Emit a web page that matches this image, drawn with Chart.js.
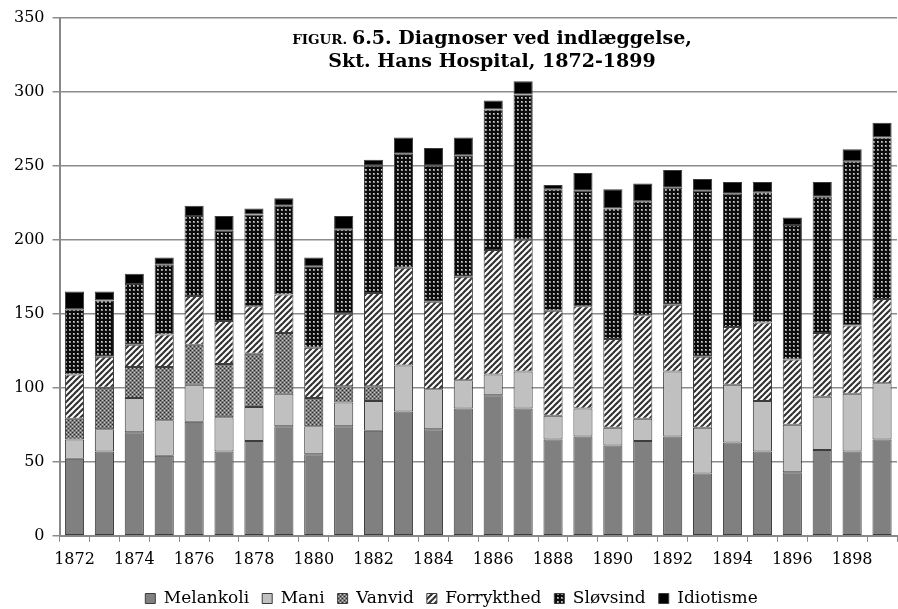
<!DOCTYPE html>
<html>
<head>
<meta charset="utf-8">
<script src="https://cdn.jsdelivr.net/npm/chart.js@4.4.0/dist/chart.umd.min.js"></script>
<style>
  html, body { margin: 0; padding: 0; background: #fff; }
  #wrap { width: 898px; height: 609px; }
</style>
</head>
<body>
<div id="wrap"><canvas id="chart"></canvas></div>
<script>
const years = [
  1872, 1873, 1874, 1875, 1876, 1877, 1878, 1879, 1880, 1881, 1882, 1883, 1884, 1885,
  1886, 1887, 1888, 1889, 1890, 1891, 1892, 1893, 1894, 1895, 1896, 1897, 1898, 1899,
];
const melankoli = [52, 57, 70, 54, 77, 57, 64, 74, 55, 74, 71, 84, 72, 86, 95, 86, 65, 67, 61, 64, 67, 42, 63, 57, 43, 58, 57, 65];
const mani = [13, 15, 23, 24, 25, 23, 23, 22, 19, 16, 20, 31, 27, 19, 14, 25, 16, 19, 12, 15, 44, 31, 39, 34, 32, 36, 39, 38];
const vanvid = [14, 28, 21, 36, 27, 36, 36, 41, 19, 11, 10, 0, 0, 0, 0, 0, 0, 0, 0, 0, 0, 0, 0, 0, 0, 0, 0, 0];
const forrykthed = [30, 21, 15, 22, 33, 29, 32, 26, 34, 49, 63, 66, 59, 70, 84, 89, 71, 69, 60, 70, 45, 48, 39, 53, 44, 43, 46, 57];
const sloevsind = [44, 38, 41, 47, 54, 61, 62, 60, 55, 57, 86, 77, 92, 82, 95, 98, 82, 78, 88, 77, 79, 112, 90, 88, 91, 92, 111, 109];
const idiotisme = [12, 6, 7, 5, 7, 10, 4, 5, 6, 9, 4, 11, 12, 12, 6, 9, 3, 12, 13, 12, 12, 8, 8, 7, 5, 10, 8, 10];

const serif = "'DejaVu Serif', 'Liberation Serif', serif";

function makePattern(w, h, draw) {
  const c = document.createElement('canvas');
  c.width = w; c.height = h;
  const g = c.getContext('2d');
  draw(g, w, h);
  return g.createPattern(c, 'repeat');
}

// fine grey stipple
const vanvidFill = makePattern(4, 4, (g) => {
  g.fillStyle = '#7c7c7c'; g.fillRect(0, 0, 4, 4);
  g.fillStyle = '#2a2a2a'; g.fillRect(0, 0, 1, 1); g.fillRect(2, 2, 1, 1);
  g.fillStyle = '#c8c8c8'; g.fillRect(2, 0, 1, 1); g.fillRect(0, 2, 1, 1);
});
// diagonal stripes
const forrFill = makePattern(6, 6, (g) => {
  g.fillStyle = '#fff'; g.fillRect(0, 0, 6, 6);
  g.strokeStyle = '#333'; g.lineWidth = 2.2;
  for (let k = -6; k <= 12; k += 6) {
    g.beginPath(); g.moveTo(k - 1, 7); g.lineTo(k + 7, -1); g.stroke();
  }
});
// black with light dots
const sloevFill = makePattern(4, 4, (g) => {
  g.fillStyle = '#0c0c0c'; g.fillRect(0, 0, 4, 4);
  g.fillStyle = '#8e8e8e'; g.fillRect(1, 1, 2, 2);
  g.fillStyle = '#d0d0d0'; g.fillRect(1, 1, 1, 1);
});

const titlePlugin = {
  id: 'inTitle',
  afterDraw(chart) {
    const ctx = chart.ctx;
    ctx.save();
    ctx.fillStyle = '#000';
    ctx.textBaseline = 'alphabetic';
    const big = "bold 19px " + serif;
    const small = "bold 13.5px " + serif;
    const cx = 492;
    ctx.font = small; const w1 = ctx.measureText('FIGUR. ').width;
    ctx.font = big; const w2 = ctx.measureText('6.5. Diagnoser ved indlæggelse,').width;
    let x = cx - (w1 + w2) / 2;
    ctx.textAlign = 'left';
    ctx.font = small; ctx.fillText('FIGUR. ', x, 44);
    ctx.font = big; ctx.fillText('6.5. Diagnoser ved indlæggelse,', x + w1, 44);
    ctx.textAlign = 'center';
    ctx.fillText('Skt. Hans Hospital, 1872-1899', cx, 67);
    ctx.restore();
  }
};

function ds(label, data, fill) {
  return { label, data, backgroundColor: fill, borderColor: '#3c3c3c', borderWidth: 1, borderSkipped: false };
}

new Chart(document.getElementById('chart'), {
  type: 'bar',
  data: {
    labels: years,
    datasets: [
      ds('Melankoli', melankoli, '#808080'),
      ds('Mani', mani, '#c0c0c0'),
      ds('Vanvid', vanvid, vanvidFill),
      ds('Forrykthed', forrykthed, forrFill),
      ds('Sløvsind', sloevsind, sloevFill),
      ds('Idiotisme', idiotisme, '#000'),
    ],
  },
  options: {
    responsive: true,
    maintainAspectRatio: false,
    animation: false,
    layout: { padding: { top: 11, right: 1, left: 6, bottom: -8 } },
    datasets: { bar: { barPercentage: 0.64, categoryPercentage: 1 } },
    plugins: {
      legend: {
        position: 'bottom',
        labels: {
          font: { family: serif, size: 17 },
          color: '#000',
          boxWidth: 10,
          boxHeight: 10,
          padding: 13,
        },
      },
      tooltip: { enabled: false },
    },
    scales: {
      x: {
        stacked: true,
        grid: { offset: true, drawOnChartArea: false, color: '#888', tickLength: 6 },
        border: { color: '#888', width: 2 },
        ticks: {
          autoSkip: false, maxRotation: 0, color: '#000', padding: 8,
          font: { family: serif, size: 16 },
          callback: (v, i) => (i % 2 === 0 ? years[i] : ''),
        },
      },
      y: {
        stacked: true,
        min: 0, max: 350,
        ticks: { stepSize: 50, color: '#000', font: { family: serif, size: 16 }, padding: 8 },
        grid: { color: '#8c8c8c', lineWidth: 1.5, tickLength: 7 },
        border: { color: '#888', width: 2 },
      },
    },
  },
  plugins: [titlePlugin],
});
</script>
</body>
</html>
